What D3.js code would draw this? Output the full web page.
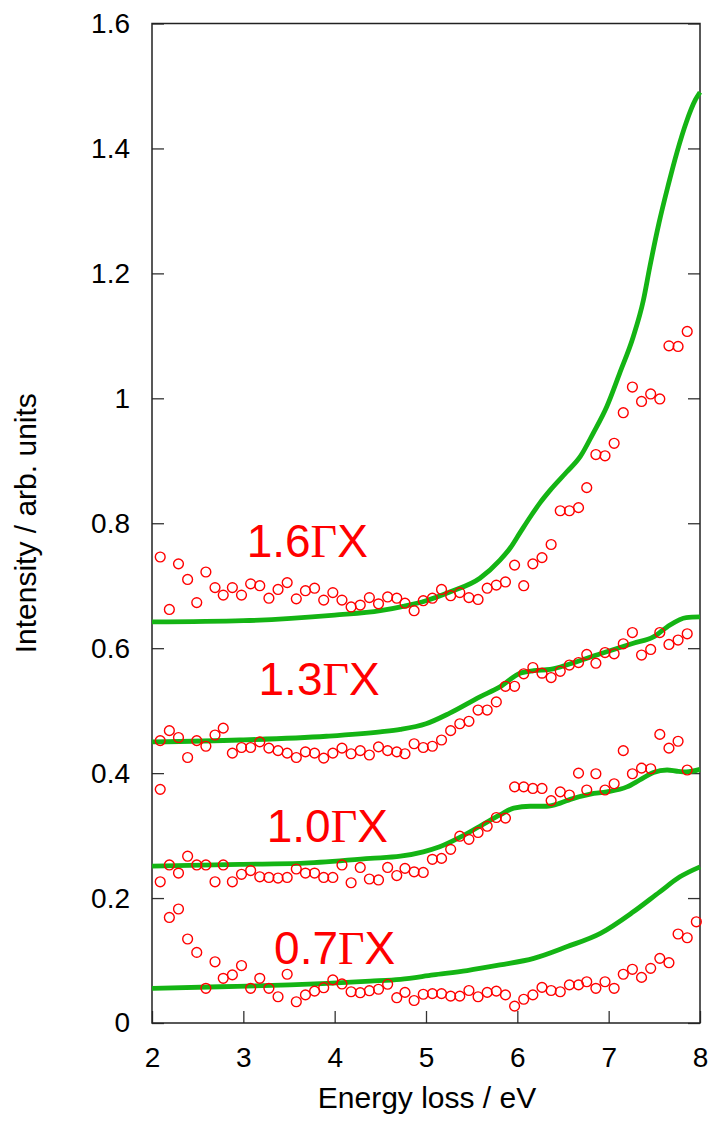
<!DOCTYPE html>
<html>
<head>
<meta charset="utf-8">
<script src="https://cdn.jsdelivr.net/npm/d3@7"></script>
<style>
  html, body { margin: 0; padding: 0; background: #fff; }
  svg { display: block; font-family: "Liberation Sans", Arial, sans-serif; }
</style>
</head>
<body>
<svg id="chart" width="713" height="1121"></svg>
<script>
// Measured energies (eV) shared by every momentum transfer
const energies = [
  2.09, 2.19, 2.29, 2.39, 2.49, 2.59, 2.69, 2.78, 2.88, 2.98,
  3.08, 3.18, 3.28, 3.38, 3.48, 3.58, 3.68, 3.78, 3.88, 3.98,
  4.08, 4.18, 4.28, 4.38, 4.48, 4.58, 4.68, 4.77, 4.87, 4.97,
  5.07, 5.17, 5.27, 5.37, 5.47, 5.57, 5.67, 5.77, 5.87, 5.97,
  6.07, 6.17, 6.27, 6.37, 6.47, 6.57, 6.67, 6.76, 6.86, 6.96,
  7.06, 7.16, 7.26, 7.36, 7.46, 7.56, 7.66, 7.76, 7.86, 7.96
];

// Measured intensities (open circles)
const meas16 = [
  0.746, 0.662, 0.735, 0.710, 0.673, 0.722, 0.697, 0.685, 0.697, 0.685,
  0.703, 0.700, 0.680, 0.694, 0.705, 0.679, 0.692, 0.696, 0.677, 0.689,
  0.677, 0.666, 0.669, 0.681, 0.671, 0.682, 0.680, 0.672, 0.660, 0.676,
  0.680, 0.694, 0.684, 0.689, 0.681, 0.678, 0.696, 0.701, 0.706, 0.733,
  0.700, 0.735, 0.745, 0.766, 0.820, 0.820, 0.825, 0.857, 0.910, 0.908,
  0.928, 0.977, 1.018, 0.995, 1.007, 0.999, 1.084, 1.083, 1.107
];
const meas13 = [
  0.452, 0.468, 0.457, 0.425, 0.452, 0.443, 0.461, 0.472, 0.432, 0.441,
  0.441, 0.450, 0.440, 0.436, 0.432, 0.425, 0.434, 0.432, 0.424, 0.432,
  0.440, 0.431, 0.436, 0.429, 0.442, 0.436, 0.434, 0.431, 0.447, 0.441,
  0.443, 0.453, 0.468, 0.479, 0.483, 0.501, 0.501, 0.514, 0.539, 0.539,
  0.559, 0.569, 0.560, 0.553, 0.563, 0.573, 0.577, 0.590, 0.576, 0.593,
  0.591, 0.607, 0.625, 0.589, 0.598, 0.625, 0.606, 0.613, 0.623
];
const meas10 = [
  0.374, 0.253, 0.240, 0.267, 0.253, 0.253, 0.226, 0.253, 0.226, 0.238,
  0.244, 0.234, 0.233, 0.232, 0.233, 0.2465, 0.240, 0.240, 0.233, 0.233,
  0.253, 0.2245, 0.249, 0.2305, 0.229, 0.249, 0.236, 0.2475, 0.242, 0.241,
  0.262, 0.2635, 0.278, 0.299, 0.294, 0.305, 0.315, 0.329, 0.328, 0.378,
  0.378, 0.3755, 0.3755, 0.356, 0.370, 0.365, 0.400, 0.373, 0.399, 0.373,
  0.383, 0.436, 0.399, 0.408, 0.407, 0.462, 0.440, 0.451, 0.405
];
const meas07 = [
  0.226, 0.169, 0.1825, 0.1345, 0.113, 0.0555, 0.098, 0.0715, 0.077, 0.092,
  0.0555, 0.0715, 0.0555, 0.042, 0.078, 0.034, 0.045, 0.051, 0.0565, 0.069,
  0.0625, 0.050, 0.0485, 0.0517, 0.054, 0.062, 0.0405, 0.049, 0.036, 0.046,
  0.047, 0.047, 0.043, 0.043, 0.052, 0.042, 0.049, 0.051, 0.045, 0.027,
  0.038, 0.045, 0.057, 0.052, 0.050, 0.061, 0.061, 0.066, 0.0555, 0.066,
  0.0555, 0.078, 0.086, 0.073, 0.0875, 0.1035, 0.0965, 0.1425, 0.1365, 0.162
];

// Calculated spectra (solid curves)
const calcE16 = [2.0, 3.0, 4.0, 4.5, 4.75, 5.0, 5.26, 5.59, 5.81, 5.92, 6.03, 6.15, 6.25, 6.36, 6.54, 6.69, 6.83, 6.98, 7.12, 7.27, 7.38, 7.45, 7.55, 7.65, 7.75, 7.85, 7.95, 8.0];
const calcI16 = [0.642, 0.644, 0.653, 0.660, 0.667, 0.676, 0.690, 0.712, 0.741, 0.760, 0.785, 0.812, 0.833, 0.853, 0.882, 0.907, 0.944, 0.987, 1.040, 1.099, 1.157, 1.210, 1.280, 1.340, 1.395, 1.442, 1.478, 1.490];

const calcE13 = [2.0, 2.96, 3.91, 4.5, 4.72, 5.0, 5.26, 5.59, 5.81, 6.03, 6.18, 6.36, 6.58, 6.91, 7.27, 7.49, 7.64, 7.85, 8.0];
const calcI13 = [0.450, 0.453, 0.459, 0.466, 0.470, 0.479, 0.496, 0.522, 0.538, 0.560, 0.564, 0.566, 0.575, 0.591, 0.608, 0.618, 0.634, 0.649, 0.650];

const calcE10 = [2.0, 2.96, 3.62, 4.39, 4.72, 4.97, 5.15, 5.37, 5.59, 5.81, 5.96, 6.14, 6.32, 6.47, 6.58, 6.80, 6.98, 7.20, 7.34, 7.49, 7.64, 7.75, 7.85, 8.0];
const calcI10 = [0.251, 0.254, 0.2555, 0.2635, 0.267, 0.274, 0.282, 0.297, 0.315, 0.333, 0.344, 0.347, 0.347, 0.352, 0.358, 0.3665, 0.370, 0.378, 0.389, 0.401, 0.405, 0.403, 0.402, 0.406];

const calcE07 = [2.0, 2.74, 3.51, 4.39, 4.72, 5.08, 5.45, 5.81, 6.18, 6.54, 6.91, 7.27, 7.56, 7.78, 8.0];
const calcI07 = [0.0555, 0.058, 0.061, 0.067, 0.070, 0.077, 0.084, 0.093, 0.1035, 0.122, 0.1435, 0.178, 0.210, 0.234, 0.250];

// Momentum-transfer labels and where they sit (data coordinates: energy, intensity)
const seriesLabels = ["1.6", "1.3", "1.0", "0.7"];
const labelE = [3.70, 3.83, 3.92, 4.00];
const labelI = [0.746, 0.525, 0.290, 0.0944];

const xTicks = [2, 3, 4, 5, 6, 7, 8];
const yTicks = [0, 0.2, 0.4, 0.6, 0.8, 1.0, 1.2, 1.4, 1.6];
const yTickLabels = ["0", "0.2", "0.4", "0.6", "0.8", "1", "1.2", "1.4", "1.6"];

const measured = [meas16, meas13, meas10, meas07];
const calcE = [calcE16, calcE13, calcE10, calcE07];
const calcI = [calcI16, calcI13, calcI10, calcI07];

(function draw() {
  const svg = d3.select("#chart");
  const plotLeft = 152, plotRight = 700, plotTop = 23.5, plotBottom = 1023;

  const x = d3.scaleLinear().domain([2, 8]).range([plotLeft, plotRight]);
  const y = d3.scaleLinear().domain([0, 1.6]).range([plotBottom, plotTop]);

  const red = "#ff0000";
  const green = "#14b414";
  const tickFont = 28;
  const titleFont = 30;

  // Axes with inward ticks
  const gx = svg.append("g").attr("transform", `translate(0,${plotBottom})`)
    .call(d3.axisBottom(x).tickValues(xTicks).tickFormat(d3.format("d"))
      .tickSizeInner(-12).tickSizeOuter(0).tickPadding(24));
  const gy = svg.append("g").attr("transform", `translate(${plotLeft},0)`)
    .call(d3.axisLeft(y).tickValues(yTicks).tickFormat((d, i) => yTickLabels[i])
      .tickSizeInner(-12).tickSizeOuter(0).tickPadding(22));
  const gr = svg.append("g").attr("transform", `translate(${plotRight},0)`)
    .call(d3.axisRight(y).tickValues(yTicks).tickFormat("")
      .tickSizeInner(-12).tickSizeOuter(0));

  [gx, gy, gr].forEach(g => {
    g.select(".domain").remove();
    g.selectAll(".tick line").attr("stroke", "#333").attr("stroke-width", 1.3);
    g.selectAll(".tick text").attr("fill", "#000")
      .style("font-size", tickFont + "px")
      .style("font-family", "'Liberation Sans', Arial, sans-serif");
  });

  // Plot frame
  svg.append("rect")
    .attr("x", plotLeft).attr("y", plotTop)
    .attr("width", plotRight - plotLeft).attr("height", plotBottom - plotTop)
    .attr("fill", "none").attr("stroke", "#222").attr("stroke-width", 1.5);

  // Axis titles
  svg.append("text")
    .attr("x", (plotLeft + plotRight) / 2 + 1).attr("y", 1108)
    .attr("text-anchor", "middle")
    .style("font-size", titleFont + "px")
    .text("Energy loss / eV");

  svg.append("text")
    .attr("transform", `translate(36,${(plotTop + plotBottom) / 2}) rotate(-90)`)
    .attr("text-anchor", "middle")
    .style("font-size", titleFont + "px")
    .text("Intensity / arb. units");

  // Calculated curves
  const line = d3.line().curve(d3.curveMonotoneX)
    .x(d => x(d[0])).y(d => y(d[1]));

  calcE.forEach((es, k) => {
    svg.append("path")
      .datum(es.map((e, i) => [e, calcI[k][i]]))
      .attr("fill", "none")
      .attr("stroke", green)
      .attr("stroke-width", 4.8)
      .attr("stroke-linejoin", "round")
      .attr("d", line);
  });

  // Measured points
  measured.forEach(vals => {
    svg.append("g").selectAll("circle")
      .data(vals.map((v, i) => [energies[i], v]))
      .join("circle")
      .attr("cx", d => x(d[0]))
      .attr("cy", d => y(d[1]))
      .attr("r", 4.9)
      .attr("fill", "none")
      .attr("stroke", red)
      .attr("stroke-width", 1.4);
  });

  // Momentum-transfer labels
  seriesLabels.forEach((lab, k) => {
    const t = svg.append("text")
      .attr("x", x(labelE[k])).attr("y", y(labelI[k]))
      .attr("text-anchor", "middle")
      .attr("fill", red)
      .style("font-size", "46px");
    t.append("tspan").text(lab);
    t.append("tspan").style("font-family", "'Liberation Serif', 'Times New Roman', serif").text("Γ");
    t.append("tspan").text("X");
  });
})();
</script>
</body>
</html>
